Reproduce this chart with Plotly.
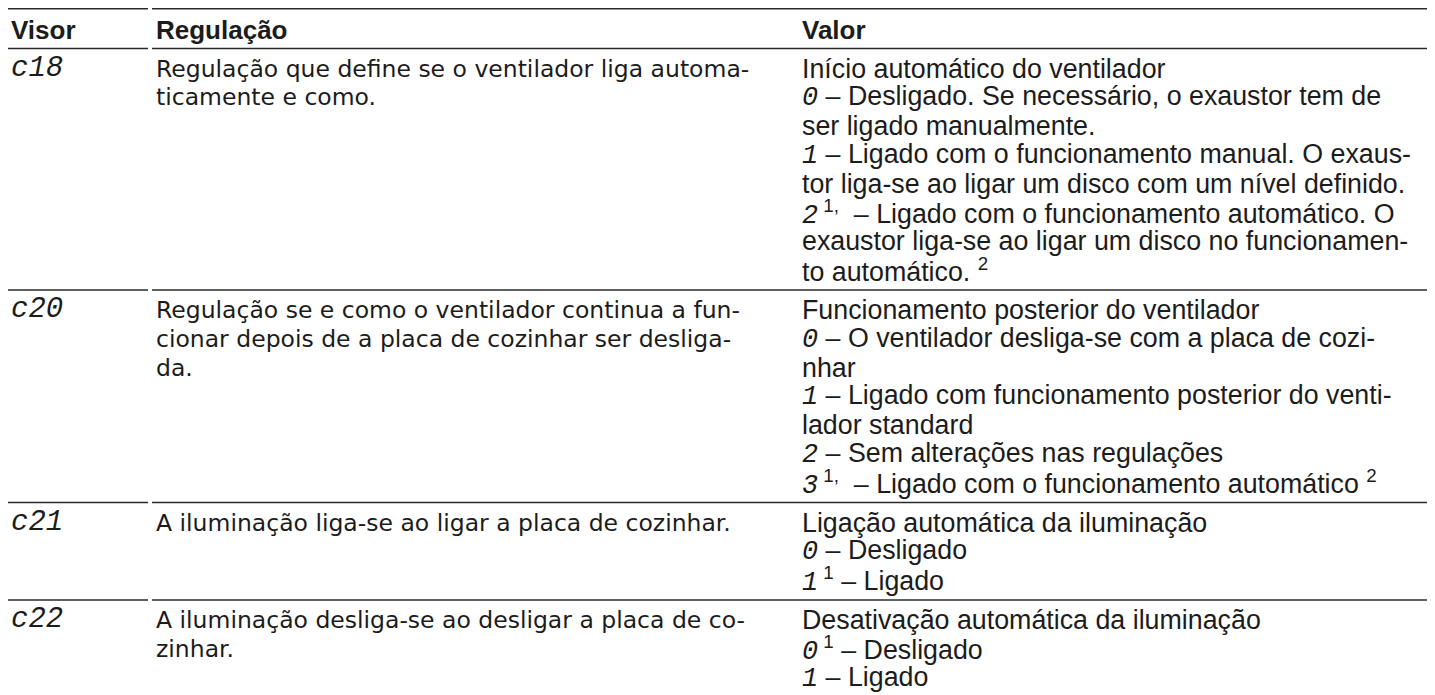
import plotly.graph_objects as go

# ---------------- data ----------------
headers = ["Visor", "Regulação", "Valor"]

visor = ["c18", "c20", "c21", "c22"]

regulacao = [
    ["Regulação que define se o ventilador liga automa-",
     "ticamente e como."],
    ["Regulação se e como o ventilador continua a fun-",
     "cionar depois de a placa de cozinhar ser desliga-",
     "da."],
    ["A iluminação liga-se ao ligar a placa de cozinhar."],
    ["A iluminação desliga-se ao desligar a placa de co-",
     "zinhar."],
]

# {d} marks a display digit, <sup> marks footnote references
valor = [
    ["Início automático do ventilador",
     "{0} – Desligado. Se necessário, o exaustor tem de",
     "ser ligado manualmente.",
     "{1} – Ligado com o funcionamento manual. O exaus-",
     "tor liga-se ao ligar um disco com um nível definido.",
     "{2}<sup> 1,</sup>  – Ligado com o funcionamento automático. O",
     "exaustor liga-se ao ligar um disco no funcionamen-",
     "to automático. <sup>2</sup>"],
    ["Funcionamento posterior do ventilador",
     "{0} – O ventilador desliga-se com a placa de cozi-",
     "nhar",
     "{1} – Ligado com funcionamento posterior do venti-",
     "lador standard",
     "{2} – Sem alterações nas regulações",
     "{3}<sup> 1,</sup>  – Ligado com o funcionamento automático <sup>2</sup>"],
    ["Ligação automática da iluminação",
     "{0} – Desligado",
     "{1}<sup> 1</sup> – Ligado"],
    ["Desativação automática da iluminação",
     "{0}<sup> 1</sup> – Desligado",
     "{1} – Ligado"],
]

# ---------------- style ----------------
W, H = 1435, 695
S = 28.8          # line spacing
PAD = 11.0        # extra space per row
TOP = 0.8
COL_X = [2, 147, 793]
COL_EDGES = [(0, 140), (144, 1427)]
INK = "#1c1c1c"
SEG = "Liberation Mono"

def disp(s):
    return ('<span style="font-family:%s;font-style:italic">%s</span>' % (SEG, s))

def fmt(line):
    for d in "0123":
        line = line.replace("{%s}" % d, disp(d))
    return line

fig = go.Figure()
ann = []

# header
hy = TOP + (S + PAD) / 2 + 1
for i, h in enumerate(headers):
    ann.append(dict(x=COL_X[i], y=hy, text="<b>%s</b>" % h,
                    font=dict(family="Liberation Sans", size=26, color=INK)))

rules = [TOP, TOP + S + PAD]
y0 = rules[-1]
for r in range(len(visor)):
    n = max(len(regulacao[r]), len(valor[r]))
    base = y0 + PAD / 2 + S / 2
    ann.append(dict(x=COL_X[0], y=base, text=disp(visor[r]),
                    font=dict(family=SEG, size=29, color=INK)))
    for k, line in enumerate(regulacao[r]):
        ann.append(dict(x=COL_X[1], y=base + k * S, text=line,
                        font=dict(family="DejaVu Sans", size=23.5, color=INK)))
    for k, line in enumerate(valor[r]):
        ann.append(dict(x=COL_X[2], y=base + k * S, text=fmt(line),
                        font=dict(family="Liberation Sans", size=26.8, color=INK)))
    y0 = y0 + n * S + PAD
    if r < len(visor) - 1:
        rules.append(y0)

rx, ry = [], []
for yv in rules:
    for a, b in COL_EDGES:
        rx += [a, b, None]
        ry += [yv, yv, None]
fig.add_trace(go.Scatter(x=rx, y=ry, mode="lines",
                         line=dict(color="#2a2a2a", width=1.5),
                         hoverinfo="skip", showlegend=False))

for a in ann:
    a.update(xref="x", yref="y", xanchor="left", yanchor="middle",
             showarrow=False, align="left", borderpad=0)
fig.update_layout(annotations=ann)

fig.update_layout(
    width=W, height=H,
    margin=dict(l=0, r=0, t=0, b=0),
    paper_bgcolor="white", plot_bgcolor="white",
    xaxis=dict(range=[0, W], visible=False, fixedrange=True),
    yaxis=dict(range=[H, 0], visible=False, fixedrange=True),
    showlegend=False,
)
fig.write_html("out.html")
